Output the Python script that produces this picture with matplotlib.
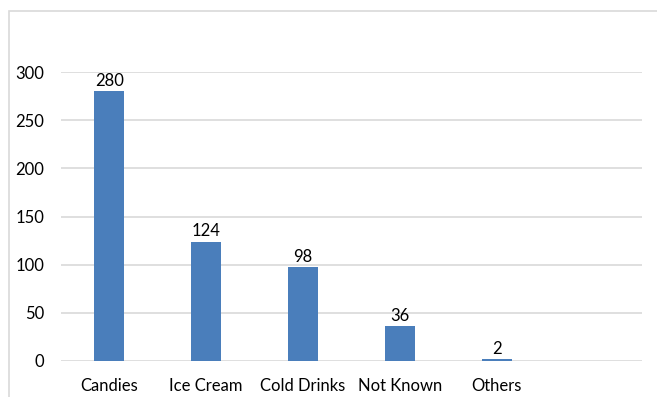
import matplotlib.pyplot as plt
from matplotlib.patches import Rectangle

categories = ["Candies", "Ice Cream", "Cold Drinks", "Not Known", "Others", ""]
values = [280, 124, 98, 36, 2, None]
yticks = [0, 50, 100, 150, 200, 250, 300]

plt.rcParams['font.family'] = ['Lato', 'DejaVu Sans']

fig = plt.figure(figsize=(6.57, 3.97), dpi=100)
ax = fig.add_axes([0.0928, 0.0907, 0.8842, 0.7279])

# outer chart frame
fig.patches.append(Rectangle((9 / 657, -0.05), 1.0, 1 - 11 / 397 + 0.05,
                             transform=fig.transFigure, fill=False,
                             edgecolor="#d9d9d9", linewidth=1.2))

xs = list(range(len(categories)))
drawn = [v if v is not None else 0 for v in values]
bars = ax.bar(xs, drawn, width=0.31, color="#4a7ebb", zorder=3)
for x, v in zip(xs, values):
    if v is not None:
        ax.annotate(str(v), (x, v), xytext=(0, 1.5), textcoords="offset points",
                    ha="center", va="bottom", fontsize=12, color="#000000")

ax.set_xlim(-0.5, len(categories) - 0.5)
ax.set_ylim(0, 300)
ax.set_yticks(yticks)
ax.set_xticks(xs)
ax.set_xticklabels(categories)
ax.yaxis.grid(True, color="#d9d9d9", linewidth=1.2, zorder=0)
ax.set_axisbelow(True)
for s in ax.spines.values():
    s.set_visible(False)
ax.tick_params(axis="both", length=0, labelsize=12, colors="#000000")
ax.tick_params(axis="y", pad=12)
ax.tick_params(axis="x", pad=12)
ax.set_clip_on(False)

fig.savefig("out.png", dpi=100)
